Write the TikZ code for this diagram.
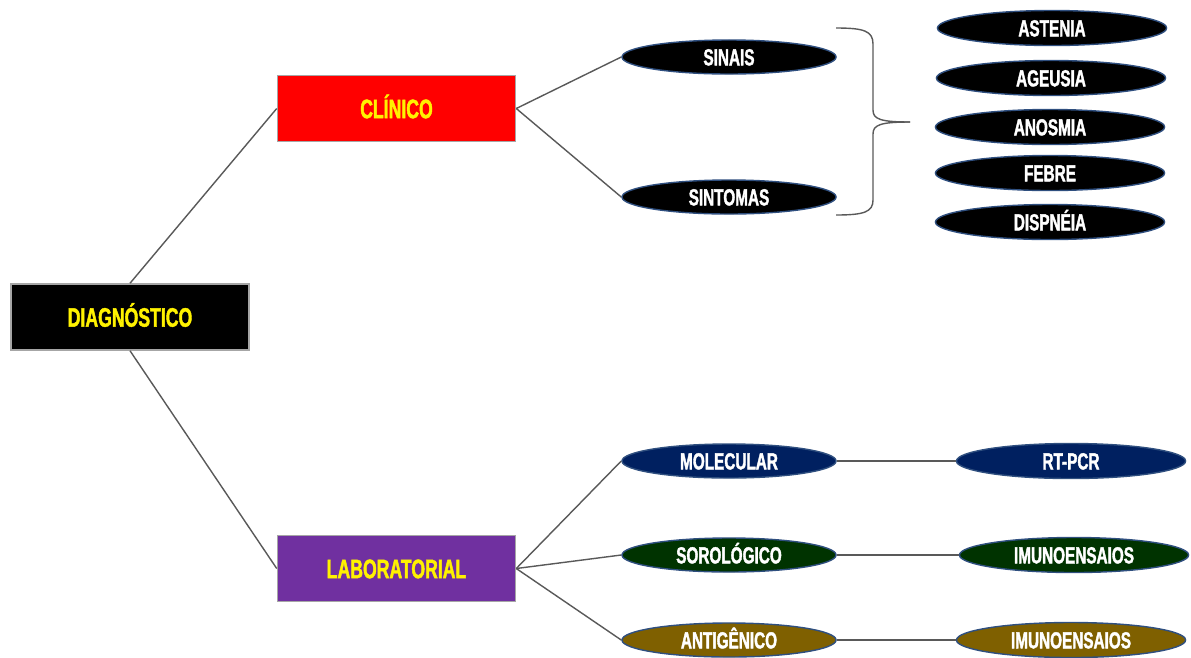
\documentclass[tikz,border=0pt]{standalone}
\usepackage{fontspec}
\newfontfamily\impactfont[FakeStretch=0.66, BoldFont=Liberation Sans Bold, BoldFeatures={FakeBold=1.6}]{Liberation Sans}
\usetikzlibrary{shapes.geometric}
\definecolor{linegray}{HTML}{595959}
\definecolor{clinred}{HTML}{FF0000}
\definecolor{labpurple}{HTML}{7030A0}
\definecolor{navyb}{HTML}{002060}
\definecolor{darkgr}{HTML}{003300}
\definecolor{olivebr}{HTML}{7F6000}
\definecolor{ellborder}{HTML}{2F4F7F}
\tikzset{
  mainbox/.style={rectangle, draw=gray!70, line width=0.4pt, minimum width=2.38cm, minimum height=0.66cm, inner sep=0pt,
     text height=5.5pt, text depth=0pt,
     text=yellow, font=\impactfont\bfseries\fontsize{7.6}{8}\selectfont},
  ellnode/.style={ellipse, draw=ellborder, line width=0.4pt, inner sep=0pt, minimum width=2.14cm, minimum height=0.34cm,
     text height=4.75pt, text depth=0pt,
     text=white, font=\impactfont\bfseries\fontsize{6.6}{7}\selectfont},
  wideell/.style={ellnode, minimum width=2.29cm, minimum height=0.35cm},
  conn/.style={draw=linegray, line width=0.4pt}
}
\begin{document}
\begin{tikzpicture}[x=0.01cm, y=-0.01cm]
\useasboundingbox (0,0) rectangle (1191,657);
% main boxes
\node[mainbox, fill=black] (diag) at (130,317) {DIAGNÓSTICO};
\node[mainbox, fill=clinred] (clin) at (396.5,108.5) {CLÍNICO};
\node[mainbox, fill=labpurple] (lab) at (396.5,568.5) {LABORATORIAL};
% clinical ellipses
\node[ellnode, fill=black] (sinais) at (729,57) {SINAIS};
\node[ellnode, fill=black] (sintomas) at (729,197) {SINTOMAS};
% symptom list
\node[wideell, fill=black] (astenia) at (1052,28) {ASTENIA};
\node[wideell, fill=black] (ageusia) at (1051,78) {AGEUSIA};
\node[wideell, fill=black] (anosmia) at (1050,127) {ANOSMIA};
\node[wideell, fill=black] (febre) at (1050,173) {FEBRE};
\node[wideell, fill=black] (dispneia) at (1050,222) {DISPNÉIA};
% lab ellipses
\node[ellnode, fill=navyb] (molec) at (729,461) {MOLECULAR};
\node[ellnode, fill=darkgr] (soro) at (729,555) {SOROLÓGICO};
\node[ellnode, fill=olivebr] (antig) at (729,640) {ANTIGÊNICO};
\node[wideell, fill=navyb] (rtpcr) at (1071,461) {RT-PCR};
\node[wideell, fill=darkgr] (imuno1) at (1074,555) {IMUNOENSAIOS};
\node[wideell, fill=olivebr] (imuno2) at (1071,640) {IMUNOENSAIOS};
% connectors
\draw[conn] (diag.north) -- (clin.west);
\draw[conn] (diag.south) -- (lab.west);
\draw[conn] (clin.east) -- (sinais.west);
\draw[conn] (clin.east) -- (sintomas.west);
\draw[conn] (lab.east) -- (molec.west);
\draw[conn] (lab.east) -- (soro.west);
\draw[conn] (lab.east) -- (antig.west);
\draw[conn] (molec.east) -- (rtpcr.west);
\draw[conn] (soro.east) -- (imuno1.west);
\draw[conn] (antig.east) -- (imuno2.west);
% brace
\coordinate (btop) at (836,28);
\coordinate (bbot) at (836,215);
\coordinate (btip) at (910,122);
\draw[conn] (btop) .. controls (864,28) and (873,31) .. (873,44) -- (873,110)
  .. controls (873,119) and (880,122) .. (btip);
\draw[conn] (btip) .. controls (880,122) and (873,125) .. (873,134) -- (873,200)
  .. controls (873,212) and (864,215) .. (bbot);
\end{tikzpicture}
\end{document}
